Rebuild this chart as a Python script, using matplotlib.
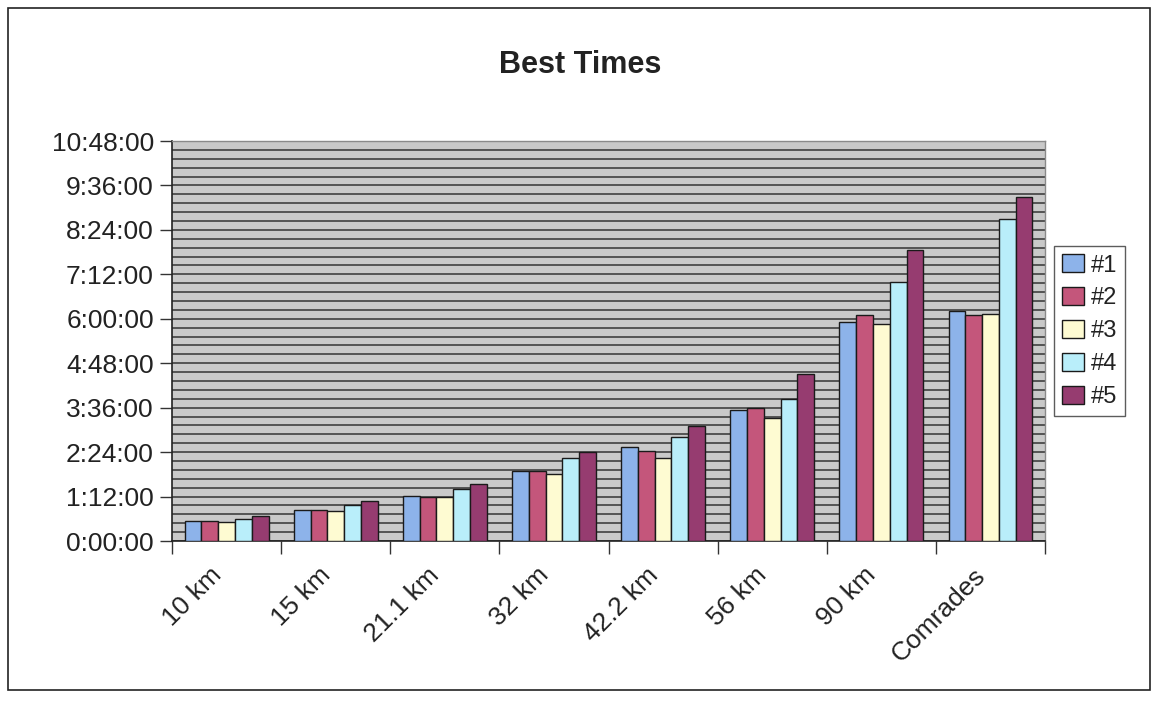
import numpy as np
import matplotlib
matplotlib.use('Agg')
import matplotlib.pyplot as plt
import matplotlib.transforms as mtransforms
from matplotlib.ticker import MultipleLocator, FuncFormatter, FixedLocator
from matplotlib.patches import Rectangle

# best times per distance, h:mm
distances = ["10 km", "15 km", "21.1 km", "32 km", "42.2 km", "56 km", "90 km", "Comrades"]
series_names = ["#1", "#2", "#3", "#4", "#5"]
best_1 = ["0:33", "0:50", "1:13", "1:53", "2:33", "3:33", "5:55", "6:12"]
best_2 = ["0:32", "0:50", "1:12", "1:53", "2:26", "3:36", "6:06", "6:06"]
best_3 = ["0:31", "0:49", "1:12", "1:48", "2:15", "3:20", "5:52", "6:07"]
best_4 = ["0:35", "0:58", "1:24", "2:15", "2:48", "3:50", "7:00", "8:41"]
best_5 = ["0:40", "1:05", "1:33", "2:24", "3:06", "4:31", "7:52", "9:17"]

colors = ["#8DB3EA", "#C4567B", "#FEFBD2", "#B9EEFA", "#963C70"]


def to_minutes(t):
    h, m = t.split(":")
    return int(h) * 60 + int(m)


def fmt_hms(v, pos=None):
    total = int(round(v * 60))
    h, rem = divmod(total, 3600)
    m, s = divmod(rem, 60)
    return f"{h}:{m:02d}:{s:02d}"


plt.rcParams['font.family'] = ['Liberation Sans', 'DejaVu Sans']

fig = plt.figure(figsize=(11.6, 7.02), dpi=100, facecolor='white')
ax = fig.add_axes([0.1483, 0.2293, 0.7526, 0.5698])
ax.set_facecolor('#C9C9C9')

# outer chart frame
fig.patches.append(Rectangle((8 / 1160, 12 / 702), 1142 / 1160, 682 / 702,
                             transform=fig.transFigure, fill=False,
                             edgecolor='#222222', lw=1.2))

x = np.arange(len(distances))
w = 1 / 6.5
all_series = [best_1, best_2, best_3, best_4, best_5]
handles = []
for i, (vals, c) in enumerate(zip(all_series, colors)):
    mins = [to_minutes(v) for v in vals]
    b = ax.bar(x + (i - 2) * w, mins, width=w, color=c, edgecolor='#1a1a1a',
               linewidth=1.0, zorder=3, label=series_names[i])
    handles.append(b)

# y axis: 0 .. 10:48, labels every 1:12, gridlines every 14:24
ax.set_ylim(0, 648)
ax.yaxis.set_major_locator(MultipleLocator(72))
ax.yaxis.set_major_formatter(FuncFormatter(fmt_hms))
ax.yaxis.set_minor_locator(MultipleLocator(14.4))
ax.yaxis.grid(True, which='both', color='#333333', lw=1.1, zorder=1)
ax.tick_params(axis='y', which='major', length=9, width=1, color='#333333',
               labelsize=19, labelcolor='#222222', pad=4)
ax.tick_params(axis='y', which='minor', length=0)

# categories: labels at centres, tick marks on boundaries
ax.set_xlim(-0.5, len(distances) - 0.5)
ax.set_xticks(x)
ax.set_xticklabels(distances, rotation=45, ha='right', va='center',
                   rotation_mode='anchor', fontsize=19, color='#222222')
ax.tick_params(axis='x', which='major', length=0, pad=22)
shift = mtransforms.ScaledTranslation(-9 / 100, 0, fig.dpi_scale_trans)
for lbl in ax.get_xticklabels():
    lbl.set_transform(lbl.get_transform() + shift)
ax.xaxis.set_minor_locator(FixedLocator(np.arange(-0.5, len(distances), 1.0)))
ax.tick_params(axis='x', which='minor', length=9, width=1, color='#333333')

for side in ['left', 'bottom']:
    ax.spines[side].set_color('#222222')
    ax.spines[side].set_linewidth(1.2)
for side in ['top', 'right']:
    ax.spines[side].set_color('#8a8a8a')
    ax.spines[side].set_linewidth(1.0)

fig.text(0.5, 0.908, "Best Times", ha='center', va='center',
         fontsize=22, fontweight='bold', color='#222222')

leg = fig.legend(handles=handles, labels=series_names,
                 loc='upper left', bbox_to_anchor=(1054 / 1160, 1 - 246 / 702),
                 fontsize=17, frameon=True, fancybox=False,
                 handlelength=0.9, handleheight=0.8, handletextpad=0.3,
                 labelspacing=0.45, borderpad=0.35, borderaxespad=0)
leg.get_frame().set_edgecolor('#333333')
leg.get_frame().set_linewidth(1.0)
for t in leg.get_texts():
    t.set_color('#222222')

fig.savefig('out.png', dpi=100, facecolor='white')
